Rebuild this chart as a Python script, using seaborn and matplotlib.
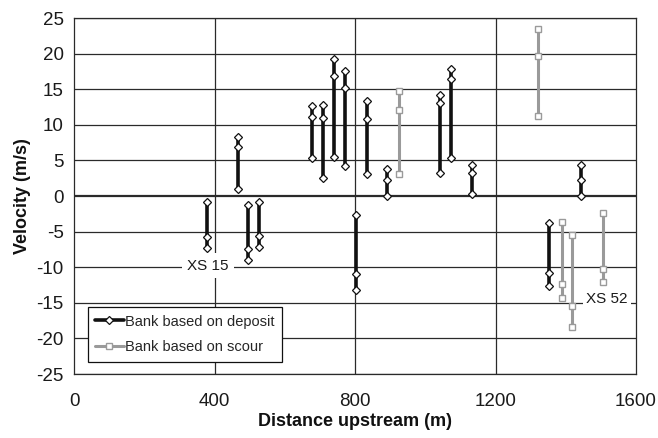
import matplotlib
matplotlib.use("Agg")
import matplotlib.pyplot as plt
from matplotlib.lines import Line2D
import numpy as np
import pandas as pd
import seaborn as sns

# Cross-section positions (m upstream) and velocity ranges (max, mid, min) in m/s
deposit_x = [378, 467, 495, 528, 677, 708, 741, 772, 802, 833, 892, 1042, 1072, 1133, 1352, 1444]
deposit_hi = [-0.9, 8.3, -1.2, -0.8, 12.6, 12.8, 19.3, 17.5, -2.7, 13.4, 3.8, 14.2, 17.9, 4.3, -3.8, 4.3]
deposit_mid = [-5.8, 6.9, -7.4, -5.6, 11.1, 11.0, 16.9, 15.2, -11.0, 10.8, 2.2, 13.0, 16.5, 3.3, -10.8, 2.2]
deposit_lo = [-7.3, 1.0, -9.0, -7.1, 5.4, 2.5, 5.5, 4.2, -13.2, 3.1, 0.0, 3.3, 5.4, 0.3, -12.6, 0.0]

scour_x = [924, 1322, 1389, 1418, 1505]
scour_hi = [14.8, 23.4, -3.7, -5.5, -2.4]
scour_mid = [12.1, 19.7, -12.3, -15.4, -10.2]
scour_lo = [3.1, 11.2, -14.3, -18.4, -12.1]

x_ticks = [0, 400, 800, 1200, 1600]
y_ticks = list(range(-25, 30, 5))

labels = {"deposit": "Bank based on deposit", "scour": "Bank based on scour"}


def long_frame(xs, hi, mid, lo, kind):
    rows = []
    for i, (x, a, b, c) in enumerate(zip(xs, hi, mid, lo)):
        for v in (a, b, c):
            rows.append({"x": x, "v": v, "id": f"{kind}{i}", "kind": kind})
    return pd.DataFrame(rows)


df_dep = long_frame(deposit_x, deposit_hi, deposit_mid, deposit_lo, "deposit")
df_sco = long_frame(scour_x, scour_hi, scour_mid, scour_lo, "scour")

sns.set_theme(style="white")
plt.rcParams["font.family"] = ["Liberation Sans", "DejaVu Sans"]
plt.rcParams["axes.unicode_minus"] = False

fig, ax = plt.subplots(figsize=(6.58, 4.38), dpi=100)
fig.subplots_adjust(left=0.1125, right=0.9666, top=0.9589, bottom=0.1461)

grid_col = "#2a2a2a"
for y in y_ticks:
    ax.axhline(y, color=grid_col, lw=1.6 if y == 0 else 0.9, zorder=1)
for x in x_ticks[1:-1]:
    ax.axvline(x, color=grid_col, lw=0.9, zorder=1)

black = "#111111"
gray = "#9a9a9a"

sns.lineplot(data=df_sco, x="x", y="v", units="id", estimator=None, sort=False,
             color=gray, lw=2.2, marker="s", markersize=5, markerfacecolor="white",
             markeredgecolor=gray, markeredgewidth=1.0, ax=ax, legend=False, zorder=3)
sns.lineplot(data=df_dep, x="x", y="v", units="id", estimator=None, sort=False,
             color=black, lw=2.6, marker="D", markersize=3.8, markerfacecolor="white",
             markeredgecolor=black, markeredgewidth=0.9, ax=ax, legend=False, zorder=4)

ax.set_xlim(0, 1600)
ax.set_ylim(-25, 25)
ax.set_xticks(x_ticks)
ax.set_yticks(y_ticks)
ax.tick_params(axis="both", direction="inout", length=7, width=0.9, color=grid_col,
               labelsize=13.5, colors="#1a1a1a", pad=4)
ax.tick_params(axis="x", pad=10)
for side in ("left", "bottom", "top", "right"):
    ax.spines[side].set_visible(True)
    ax.spines[side].set_color(grid_col)
    ax.spines[side].set_linewidth(0.9)

ax.set_xlabel("Distance upstream (m)", fontsize=13, fontweight="bold", color="#111111", labelpad=2)
ax.set_ylabel("Velocity (m/s)", fontsize=13, fontweight="bold", color="#111111", labelpad=4)

box = dict(boxstyle="square,pad=0.35", facecolor="white", edgecolor="none")
ax.text(381, -9.8, "XS 15", ha="center", va="center", fontsize=11, color="#1a1a1a",
        bbox=box, zorder=5)
ax.text(1518, -14.4, "XS 52", ha="center", va="center", fontsize=11, color="#1a1a1a",
        bbox=dict(boxstyle="square,pad=0.2", facecolor="white", edgecolor="none"), zorder=5)

handles = [
    Line2D([], [], color=black, lw=2.6, marker="D", markersize=3.8, markerfacecolor="white",
           markeredgecolor=black, markeredgewidth=0.9),
    Line2D([], [], color=gray, lw=2.2, marker="s", markersize=5, markerfacecolor="white",
           markeredgecolor=gray, markeredgewidth=1.0),
]
leg = ax.legend(handles, [labels["deposit"], labels["scour"]], loc="lower left",
                bbox_to_anchor=(0.024, 0.035), fontsize=10.5, frameon=True, fancybox=False,
                handlelength=2.0, handletextpad=0.1, borderpad=0.5, labelspacing=0.8,
                borderaxespad=0)
leg.get_frame().set_edgecolor("#111111")
leg.get_frame().set_linewidth(0.9)
leg.get_frame().set_facecolor("white")
leg.get_frame().set_alpha(1)
leg.set_zorder(6)

fig.savefig("out.png", dpi=100, facecolor="white")
